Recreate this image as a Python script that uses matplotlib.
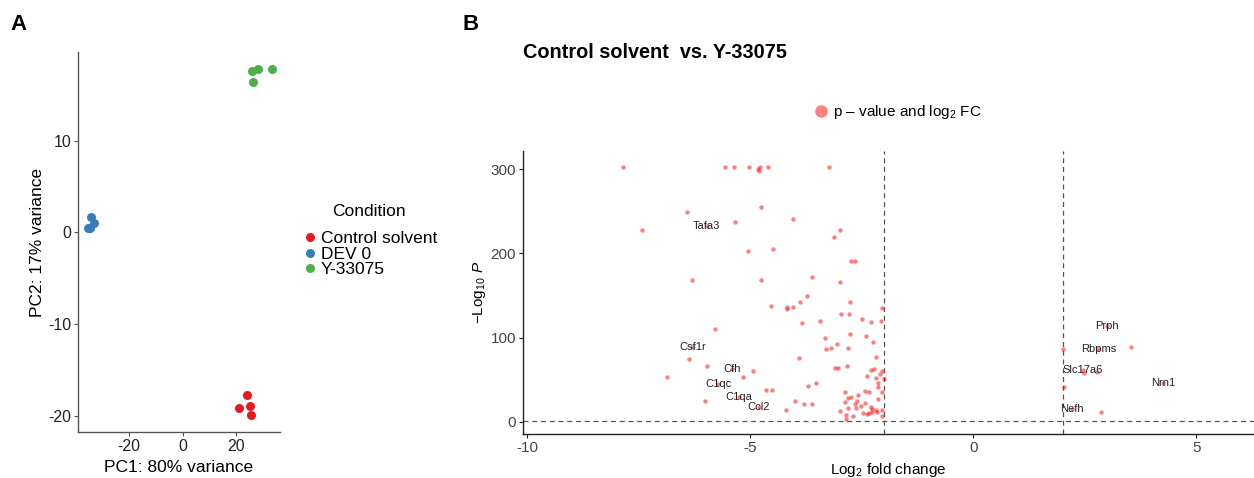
import matplotlib
matplotlib.use("Agg")
import matplotlib.pyplot as plt
from matplotlib.lines import Line2D

plt.rcParams['font.family'] = ['Liberation Sans', 'DejaVu Sans']
plt.rcParams['mathtext.fontset'] = 'custom'
plt.rcParams['mathtext.rm'] = 'Liberation Sans'
plt.rcParams['mathtext.it'] = 'Liberation Sans:italic'
plt.rcParams['axes.unicode_minus'] = False

# --- PCA data (panel A) ---
conditions = ['Control solvent', 'DEV 0', 'Y-33075']
cond_colors = ['#E41A1C', '#377EB8', '#4DAF4A']
pc1 = {
    'Control solvent': [24.0, 20.8, 25.0, 25.4],
    'DEV 0': [-33.8, -32.9, -35.1, -34.5],
    'Y-33075': [25.9, 28.1, 33.1, 26.3],
}
pc2 = {
    'Control solvent': [-17.8, -19.2, -19.0, -19.95],
    'DEV 0': [1.7, 1.05, 0.44, 0.5],
    'Y-33075': [17.6, 17.8, 17.8, 16.4],
}

# --- volcano data (panel B) ---
log2fc = [-7.85, -5.57, -5.37, -5.03, -4.84, -4.79, -4.81, -4.60, -3.24,
          -6.42, -7.43, -5.98, -5.34, -4.77, -4.05, -2.99, -3.13, -5.05, -4.49,
          -2.75, -2.66, -6.30, -4.77, -3.63, -2.99, -3.74, -3.88, -2.77, -4.54,
          -4.17, -4.04, -4.17, -2.04, -2.98, -2.80, -3.84, -3.43, -2.49, -2.30,
          -2.08, -5.79, -2.77, -2.42, -3.32, -3.05, -2.26, -3.31, -3.20, -2.81,
          -6.30, -2.18, -3.91, -6.37, -5.97, -3.11, -3.03, -2.83, -2.30, -2.23,
          -2.06, -5.41, -4.95, -2.39, -2.10, -2.19, -2.01, -6.88, -5.17, -5.72,
          -3.52, -3.71, -2.15, -2.13, -4.66, -4.51, -2.87, -2.43, -2.34, -2.04,
          -2.58, -2.75, -2.81, -5.25, -2.15, -2.88, -2.61, -2.43, -4.01, -6.01,
          -3.79, -3.63, -2.66, -2.52, -2.81, -2.63, -2.30, -2.28, -2.19, -2.04,
          -4.81, -4.20, -2.99, -2.47, -2.39, -2.34, -2.28, -2.17, -2.85, -2.70,
          -2.06, -2.85,
          3.00, 3.53, 2.01, 2.80, 2.45, 2.47, 2.78, 2.04, 4.26, 2.20, 2.86]
neglog10p = [302.5, 302.5, 302.5, 302.5, 300, 302.5, 298, 302.5, 302.5,
             249, 228, 233, 237.5, 255, 241, 228, 219.6, 203, 205.7,
             191.5, 191.5, 168.5, 168, 171.7, 166.5, 149.5, 142.3, 142.3, 138,
             136.8, 136.8, 133.6, 135.6, 128.5, 128.5, 117.7, 119.4, 122.5, 118.6,
             119.4, 110.6, 104.3, 101.9, 99.5, 92, 94.4, 86, 87.2, 88,
             89, 77.3, 76.1, 74.6, 66.6, 63.5, 64.3, 66.2, 61.5, 62.3,
             60.6, 63, 60.6, 54.7, 56.7, 52.3, 51.1, 53.5, 52.8, 44.5,
             46.4, 42.8, 45.6, 40.9, 37.7, 37.7, 35.7, 36.9, 35.7, 35.7,
             31.7, 29.7, 28.5, 29, 26.6, 23.4, 25, 22.6, 24.2, 24.2,
             21, 21, 21, 19, 16.6, 16.6, 17, 14.7, 13.9, 13.9,
             17, 13.9, 13, 10.7, 8.8, 10, 11, 11.5, 8, 6.8,
             6.8, 2.8,
             114, 89, 86, 86, 61.5, 57.5, 58.7, 41.6, 45.6, 14.7, 11.2]

genes = ['Tafa3', 'Csf1r', 'Cfh', 'C1qc', 'C1qa', 'Ccl2',
         'Prph', 'Rbpms', 'Slc17a6', 'Nrn1', 'Nefh']
gene_fc = [-5.98, -6.30, -5.41, -5.72, -5.25, -4.81,
           3.00, 2.80, 2.45, 4.26, 2.20]
gene_p = [233, 89, 63, 44.5, 29, 17,
          114, 86, 61.5, 45.6, 14.7]

fc_cut = 2
p_cut = 1.3  # -log10(0.05)

W, H = 1254, 478
fig = plt.figure(figsize=(W / 100, H / 100), dpi=100)

# ---------------- Panel A ----------------
axA = fig.add_axes([78 / W, 1 - 432 / H, 202 / W, 380 / H])
for c, col in zip(conditions, cond_colors):
    axA.scatter(pc1[c], pc2[c], s=42, color=col, label=c, zorder=3, linewidths=0)
axA.set_xlim(-38.8, 36.2)
axA.set_ylim(-21.8, 19.7)
axA.set_xticks([-20, 0, 20])
axA.set_yticks([-20, -10, 0, 10])
axA.set_xlabel('PC1: 80% variance', fontsize=12.5, labelpad=4)
axA.set_ylabel('PC2: 17% variance', fontsize=12.5, labelpad=2)
for s in ['top', 'right']:
    axA.spines[s].set_visible(False)
for s in ['left', 'bottom']:
    axA.spines[s].set_color('#555555')
    axA.spines[s].set_linewidth(1.0)
axA.tick_params(length=3, width=0.8, color='#555555', labelsize=11.5,
                labelcolor='#222222', pad=2)

fig.text(332 / W, 1 - 212 / H, 'Condition', fontsize=12.5,
         ha='left', va='center')
handlesA = [Line2D([], [], marker='o', ls='', color=col, markersize=6.5,
                   markeredgewidth=0, label=c)
            for c, col in zip(conditions, cond_colors)]
fig.legend(handles=handlesA, loc='upper left',
           bbox_to_anchor=(294 / W, 1 - 224 / H), frameon=False,
           fontsize=12.5, handletextpad=0.15,
           labelspacing=0.02, borderaxespad=0, handlelength=1.0)

# ---------------- Panel B ----------------
axB = fig.add_axes([523 / W, 1 - 434.3 / H, (W - 523) / W, 283.3 / H])
axB.scatter(log2fc, neglog10p, s=10, color='#FF0000', alpha=0.5,
            linewidths=0, zorder=3)
axB.axvline(-fc_cut, color='#555555', ls=(0, (4, 3)), lw=0.9, zorder=2)
axB.axvline(fc_cut, color='#555555', ls=(0, (4, 3)), lw=0.9, zorder=2)
axB.axhline(p_cut, color='#555555', ls=(0, (4, 3)), lw=0.9, zorder=2)
for g, x, y in zip(genes, gene_fc, gene_p):
    axB.text(x, y, g, fontsize=8, ha='center', va='center',
             color='#222222', zorder=4)
axB.set_xlim(-10.1, 6.29)
axB.set_ylim(-15, 321.8)
axB.set_xticks([-10, -5, 0, 5])
axB.set_yticks([0, 100, 200, 300])
axB.set_xlabel(r'Log$_2$ fold change', fontsize=11, labelpad=4)
axB.set_ylabel(r'$-$Log$_{10}$ $\mathit{P}$', fontsize=11, labelpad=2)
for s in ['top', 'right']:
    axB.spines[s].set_visible(False)
for s in ['left', 'bottom']:
    axB.spines[s].set_color('#222222')
    axB.spines[s].set_linewidth(1.0)
axB.tick_params(length=3, width=0.8, color='#222222', labelsize=11,
                labelcolor='#444444', pad=2)

handlesB = [Line2D([], [], marker='o', ls='', color='#FF0000', alpha=0.5,
                   markersize=9, markeredgewidth=0,
                   label=r'p – value and log$_2$ FC')]
fig.legend(handles=handlesB, loc='center left',
           bbox_to_anchor=(806 / W, 1 - 112 / H), frameon=False,
           fontsize=11, handletextpad=0.2, borderaxespad=0, handlelength=1.2)

fig.text(523 / W, 1 - 52 / H, 'Control solvent  vs. Y-33075', fontsize=14.3,
         fontweight='bold', ha='left', va='center')
fig.text(10 / W, 1 - 25 / H, 'A', fontsize=16, fontweight='bold',
         ha='left', va='center')
fig.text(462 / W, 1 - 25 / H, 'B', fontsize=16, fontweight='bold',
         ha='left', va='center')

fig.savefig('out.png', dpi=100)
